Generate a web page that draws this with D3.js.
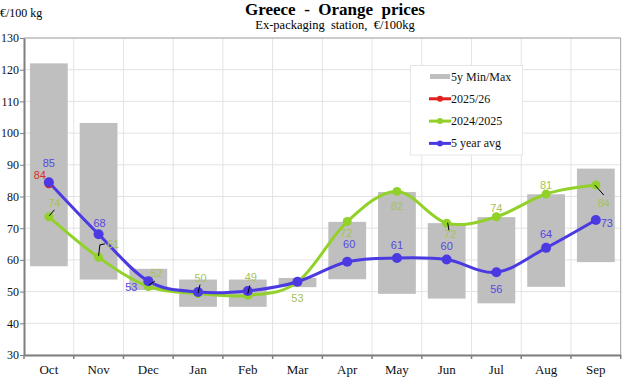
<!DOCTYPE html>
<html><head><meta charset="utf-8">
<script src="https://cdn.jsdelivr.net/npm/d3@7"></script>
<style>body{margin:0;background:#fff}svg{display:block}</style>
</head><body>
<svg id="c" width="626" height="380"></svg>
<script>
const months = ["Oct","Nov","Dec","Jan","Feb","Mar","Apr","May","Jun","Jul","Aug","Sep"];
const minVals = [58, 53.8, 50.5, 45.2, 45.2, 51.4, 53.9, 49.3, 47.8, 46.3, 51.5, 59.3];
const maxVals = [122, 103.2, 57.2, 53.8, 53.8, 54.3, 72.0, 81.4, 71.6, 73.5, 80.7, 88.8];
const avg5 = [84.5, 68.1, 53.3, 49.9, 50.2, 53.1, 59.4, 60.6, 60.1, 56.1, 63.8, 72.6];
const s2425 = [73.6, 60.8, 51.6, 49.4, 48.8, 53.0, 72.1, 81.6, 71.6, 73.6, 80.8, 83.6];
const s2526 = [84];
const yTicks = [30,40,50,60,70,80,90,100,110,120,130];
const avgLabels = ["85","68","53",null,null,null,"60","61","60","56","64","73"];
const g2425Labels = ["74","61","52","50","49","53","72","82","72","74","81","84"];
const r2526Labels = ["84"];

const svg = d3.select("#c");
const L = 24, R = 620.7, T = 38, B = 355;
const x = d3.scaleBand().domain(months).range([L, R]).paddingInner(0).paddingOuter(0);
const y = d3.scaleLinear().domain([30,130]).range([B, T]);
const cx = m => x(m) + x.bandwidth()/2;
const serif = "'Liberation Serif','Times New Roman',serif";
const sans = "'Liberation Sans',Arial,sans-serif";

// grid
const g = svg.append("g");
g.selectAll(".hg").data(yTicks).join("line")
  .attr("x1", L).attr("x2", R).attr("y1", d=>y(d)).attr("y2", d=>y(d))
  .attr("stroke", "#e3e3e3").attr("stroke-width", 1);
g.selectAll(".vg").data(months.slice(1)).join("line")
  .attr("x1", d=>x(d)).attr("x2", d=>x(d)).attr("y1", T).attr("y2", B)
  .attr("stroke", "#e3e3e3").attr("stroke-width", 1);
// plot border top/right
svg.append("line").attr("x1", L).attr("x2", R).attr("y1", T).attr("y2", T).attr("stroke","#a6a6a6");
svg.append("line").attr("x1", R).attr("x2", R).attr("y1", T).attr("y2", B).attr("stroke","#a6a6a6");

// bars
const bw = x.bandwidth()*0.76;
svg.selectAll(".bar").data(months).join("rect")
  .attr("x", d => cx(d) - bw/2).attr("width", bw)
  .attr("y", (d,i) => y(maxVals[i])).attr("height", (d,i) => y(minVals[i]) - y(maxVals[i]))
  .attr("fill", "#bfbfbf");

// axes
const yAxis = d3.axisLeft(y).tickValues(yTicks).tickSize(4).tickSizeOuter(0);
const ya = svg.append("g").attr("transform", `translate(${L},0)`).call(yAxis);
ya.select(".domain").attr("stroke", "#7f7f7f").attr("stroke-width", 2);
ya.selectAll(".tick line").attr("stroke", "#7f7f7f");
ya.selectAll(".tick text").attr("font-family", serif).attr("font-size", 12).attr("fill", "#111").attr("x", -5);

const xAxis = d3.axisBottom(x).tickSize(0).tickSizeOuter(0);
const xa = svg.append("g").attr("transform", `translate(0,${B})`).call(xAxis);
xa.select(".domain").attr("stroke", "#7f7f7f").attr("stroke-width", 2);
xa.selectAll(".tick text").attr("font-family", serif).attr("font-size", 13).attr("fill", "#111").attr("dy", "1.25em");
svg.selectAll(".xt").data(months.concat(["_end"])).join("line")
  .attr("x1", d => d==="_end" ? R : x(d)).attr("x2", d => d==="_end" ? R : x(d))
  .attr("y1", B).attr("y2", B+4).attr("stroke", "#7f7f7f").attr("stroke-width", 1.5);

// lines
const line = d3.line().x((d,i)=>cx(months[i])).y(d=>y(d)).curve(d3.curveCardinal.tension(0));
const green = "#92d02a", blue = "#4b3ae2", red = "#e0201b";
svg.append("path").attr("d", line(s2425)).attr("fill","none").attr("stroke", green).attr("stroke-width", 3);
svg.append("path").attr("d", line(avg5)).attr("fill","none").attr("stroke", blue).attr("stroke-width", 3);
svg.selectAll(".gm").data(s2425).join("circle").attr("cx",(d,i)=>cx(months[i])).attr("cy", d=>y(d)).attr("r",4.5).attr("fill", green);
svg.selectAll(".rm").data(s2526).join("circle").attr("cx",(d,i)=>cx(months[i])).attr("cy", d=>y(d)).attr("r",4.5).attr("fill", red);
svg.selectAll(".bm").data(avg5).join("circle").attr("cx",(d,i)=>cx(months[i])).attr("cy", d=>y(d)).attr("r",5).attr("fill", blue);

// leader lines for green labels
const leaders = [
  [0, [[0.5,-1],[5.5,-7]]],
  [1, [[0,-1.5],[1.3,-12.5],[6.3,-13.5]]],
  [2, [[0.5,-1.5],[6.5,-5.5]]],
  [3, [[0,-0.5],[2,-9]]],
  [4, [[0,-1.5],[2,-10]]],
  [8, [[1,-0.5],[2.4,8]]],
  [11, [[-1,0],[8,10]]]
];
leaders.forEach(([i, pts]) => {
  const px = cx(months[i]), py = y(s2425[i]);
  svg.append("path").attr("d", d3.line()(pts.map(p=>[px+p[0], py+p[1]])))
    .attr("fill","none").attr("stroke","#000").attr("stroke-width",1);
});

// labels
const avgOff = [[0,-19],[1,-11],[-17,6],null,null,null,[2,-18],[0,-13],[0,-14],[0,17],[0,-14],[11,3]];
const grOff = [[5.5,-14],[14.5,-13],[8,-14],[2.5,-16],[3,-18],[0,16],[-1,11],[0,15],[3.5,11],[0,-9],[0,-9],[8,18]];
const redOff = [[-9,-9]];
function labels(vals, labs, offs, color){
  vals.forEach((v,i)=>{
    if(!labs[i] || !offs[i]) return;
    svg.append("text").attr("x", cx(months[i])+offs[i][0]).attr("y", y(v)+offs[i][1])
      .attr("text-anchor","middle").attr("dominant-baseline","central")
      .attr("font-family", sans).attr("font-size", 11).attr("fill", color).text(labs[i]);
  });
}
labels(s2425, g2425Labels, grOff, "#a6c35a");
labels(avg5, avgLabels, avgOff, "#5648e0");
labels(s2526, r2526Labels, redOff, "#d2302a");

// legend
const lg = svg.append("g");
lg.append("rect").attr("x", 410.5).attr("y", 65.5).attr("width", 112).attr("height", 89.5)
  .attr("fill","#fff").attr("stroke","#e6e6e6");
const items = [
  {name:"5y Min/Max", type:"bar", color:"#bfbfbf"},
  {name:"2025/26", type:"line", color:red},
  {name:"2024/2025", type:"line", color:green},
  {name:"5 year avg", type:"line", color:blue}
];
items.forEach((it,k)=>{
  const yy = 76.5 + k*22.3;
  if(it.type==="bar"){
    lg.append("rect").attr("x",430).attr("y",yy-2.5).attr("width",20).attr("height",5).attr("fill",it.color);
  } else {
    lg.append("line").attr("x1",429).attr("x2",451).attr("y1",yy).attr("y2",yy).attr("stroke",it.color).attr("stroke-width",3);
    lg.append("circle").attr("cx",440).attr("cy",yy).attr("r",3).attr("fill",it.color);
  }
  lg.append("text").attr("x",451).attr("y",yy).attr("dominant-baseline","central")
    .attr("font-family",serif).attr("font-size",12).attr("fill","#111").text(it.name);
});

// titles
svg.append("text").attr("x", 335).attr("y", 15).attr("text-anchor","middle")
  .attr("font-family", serif).attr("font-weight","bold").attr("font-size", 17).attr("fill","#000")
  .style("white-space","pre").text("Greece  -  Orange  prices");
svg.append("text").attr("x", 335).attr("y", 29).attr("text-anchor","middle")
  .attr("font-family", serif).attr("font-size", 12.5).attr("fill","#000")
  .style("white-space","pre").text("Ex-packaging  station,  €/100kg");
svg.append("text").attr("x", 0).attr("y", 17)
  .attr("font-family", serif).attr("font-size", 12).attr("fill","#000").text("€/100 kg");
</script>
</body></html>
